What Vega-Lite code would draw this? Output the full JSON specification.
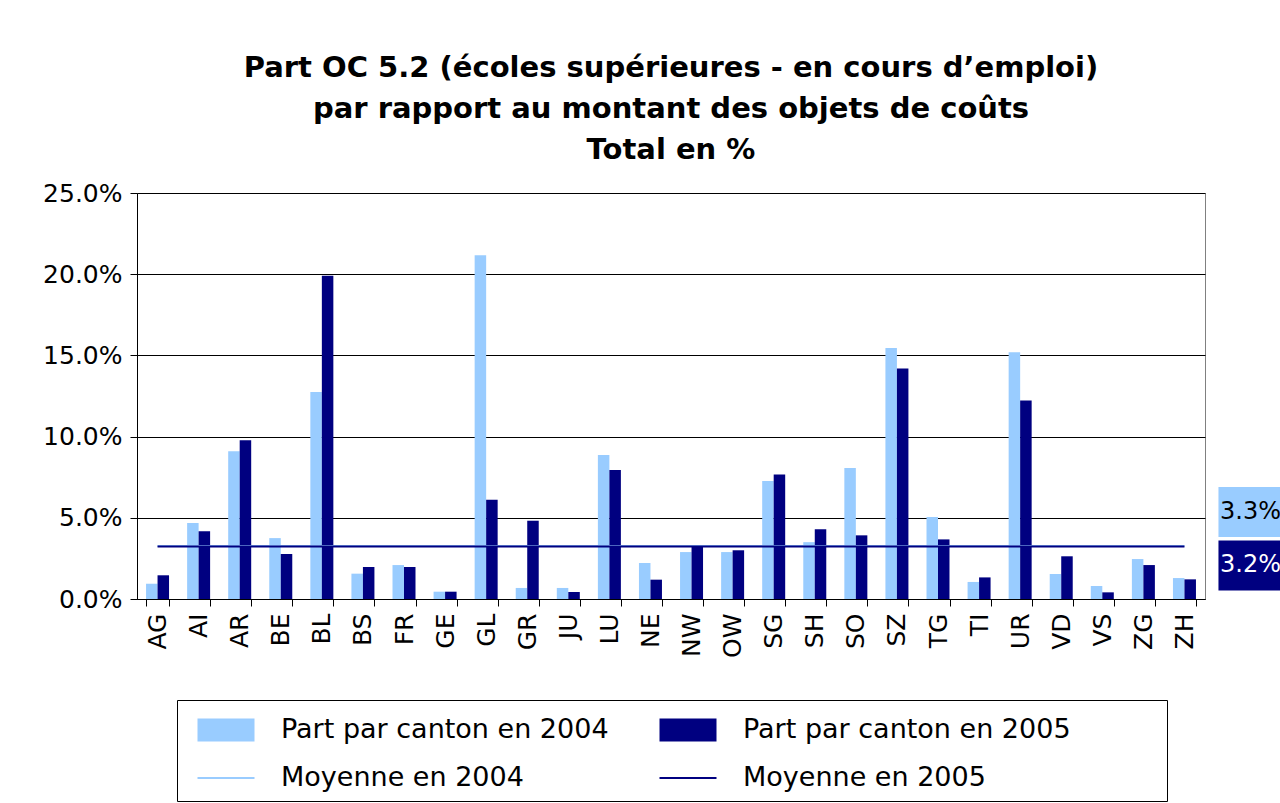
{
  "$schema": "https://vega.github.io/schema/vega-lite/v6.json",
  "autosize": "none",
  "width": 1068,
  "height": 406,
  "padding": {"left": 137, "top": 193, "right": 75, "bottom": 204},
  "background": "white",
  "config": {
    "view": {"stroke": "#808080", "strokeWidth": 1},
    "font": "DejaVu Sans",
    "legend": {
      "orient": "none", "legendX": 40, "legendY": 507, "columns": 2, "title": null,
      "strokeColor": "black", "fillColor": "white", "padding": 10,
      "labelFont": "DejaVu Sans", "labelFontSize": 27, "labelColor": "black",
      "labelOffset": 35, "symbolOffset": 19, "columnPadding": 40, "rowPadding": 15,
      "symbolSize": 1600, "labelLimit": 900, "symbolOpacity": 1, "symbolStrokeWidth": 0
    }
  },
  "title": {
    "text": ["Part OC 5.2 (écoles supérieures - en cours d’emploi)", "par rapport au montant des objets de coûts", "Total en %"],
    "font": "DejaVu Sans", "fontSize": 29, "fontWeight": "bold", "lineHeight": 41,
    "offset": 16, "anchor": "middle", "color": "black"
  },
  "datasets": {
    "bars": [
      {"canton": "AG", "series": "Part par canton en 2004", "value": 0.0094},
      {"canton": "AG", "series": "Part par canton en 2005", "value": 0.0146},
      {"canton": "AI", "series": "Part par canton en 2004", "value": 0.0468},
      {"canton": "AI", "series": "Part par canton en 2005", "value": 0.0417},
      {"canton": "AR", "series": "Part par canton en 2004", "value": 0.0910},
      {"canton": "AR", "series": "Part par canton en 2005", "value": 0.0977},
      {"canton": "BE", "series": "Part par canton en 2004", "value": 0.0375},
      {"canton": "BE", "series": "Part par canton en 2005", "value": 0.0277},
      {"canton": "BL", "series": "Part par canton en 2004", "value": 0.1274},
      {"canton": "BL", "series": "Part par canton en 2005", "value": 0.1990},
      {"canton": "BS", "series": "Part par canton en 2004", "value": 0.0156},
      {"canton": "BS", "series": "Part par canton en 2005", "value": 0.0197},
      {"canton": "FR", "series": "Part par canton en 2004", "value": 0.0209},
      {"canton": "FR", "series": "Part par canton en 2005", "value": 0.0197},
      {"canton": "GE", "series": "Part par canton en 2004", "value": 0.0045},
      {"canton": "GE", "series": "Part par canton en 2005", "value": 0.0045},
      {"canton": "GL", "series": "Part par canton en 2004", "value": 0.2117},
      {"canton": "GL", "series": "Part par canton en 2005", "value": 0.0611},
      {"canton": "GR", "series": "Part par canton en 2004", "value": 0.0068},
      {"canton": "GR", "series": "Part par canton en 2005", "value": 0.0482},
      {"canton": "JU", "series": "Part par canton en 2004", "value": 0.0068},
      {"canton": "JU", "series": "Part par canton en 2005", "value": 0.0043},
      {"canton": "LU", "series": "Part par canton en 2004", "value": 0.0886},
      {"canton": "LU", "series": "Part par canton en 2005", "value": 0.0794},
      {"canton": "NE", "series": "Part par canton en 2004", "value": 0.0222},
      {"canton": "NE", "series": "Part par canton en 2005", "value": 0.0119},
      {"canton": "NW", "series": "Part par canton en 2004", "value": 0.0289},
      {"canton": "NW", "series": "Part par canton en 2005", "value": 0.0326},
      {"canton": "OW", "series": "Part par canton en 2004", "value": 0.0289},
      {"canton": "OW", "series": "Part par canton en 2005", "value": 0.0300},
      {"canton": "SG", "series": "Part par canton en 2004", "value": 0.0726},
      {"canton": "SG", "series": "Part par canton en 2005", "value": 0.0767},
      {"canton": "SH", "series": "Part par canton en 2004", "value": 0.0350},
      {"canton": "SH", "series": "Part par canton en 2005", "value": 0.0429},
      {"canton": "SO", "series": "Part par canton en 2004", "value": 0.0806},
      {"canton": "SO", "series": "Part par canton en 2005", "value": 0.0392},
      {"canton": "SZ", "series": "Part par canton en 2004", "value": 0.1545},
      {"canton": "SZ", "series": "Part par canton en 2005", "value": 0.1420},
      {"canton": "TG", "series": "Part par canton en 2004", "value": 0.0505},
      {"canton": "TG", "series": "Part par canton en 2005", "value": 0.0367},
      {"canton": "TI", "series": "Part par canton en 2004", "value": 0.0105},
      {"canton": "TI", "series": "Part par canton en 2005", "value": 0.0133},
      {"canton": "UR", "series": "Part par canton en 2004", "value": 0.1520},
      {"canton": "UR", "series": "Part par canton en 2005", "value": 0.1223},
      {"canton": "VD", "series": "Part par canton en 2004", "value": 0.0154},
      {"canton": "VD", "series": "Part par canton en 2005", "value": 0.0263},
      {"canton": "VS", "series": "Part par canton en 2004", "value": 0.0080},
      {"canton": "VS", "series": "Part par canton en 2005", "value": 0.0041},
      {"canton": "ZG", "series": "Part par canton en 2004", "value": 0.0246},
      {"canton": "ZG", "series": "Part par canton en 2005", "value": 0.0209},
      {"canton": "ZH", "series": "Part par canton en 2004", "value": 0.0129},
      {"canton": "ZH", "series": "Part par canton en 2005", "value": 0.0121}
    ],
    "means": [
      {"canton": "AG", "series": "Moyenne en 2004", "value": 0.0327},
      {"canton": "ZH", "series": "Moyenne en 2004", "value": 0.0327},
      {"canton": "AG", "series": "Moyenne en 2005", "value": 0.0324},
      {"canton": "ZH", "series": "Moyenne en 2005", "value": 0.0324}
    ]
  },
  "encoding": {
    "x": {
      "field": "canton", "type": "nominal",
      "scale": {"domain": ["AG","AI","AR","BE","BL","BS","FR","GE","GL","GR","JU","LU","NE","NW","OW","SG","SH","SO","SZ","TG","TI","UR","VD","VS","ZG","ZH"], "paddingInner": 0.44, "paddingOuter": 0.22},
      "axis": {
        "title": null, "labelAngle": 270, "labelFont": "DejaVu Sans", "labelFontSize": 25,
        "labelColor": "black", "tickBand": "extent", "tickSize": 7, "tickColor": "black",
        "domainColor": "black", "labelPadding": 7, "grid": false
      }
    },
    "y": {
      "field": "value", "type": "quantitative",
      "scale": {"domain": [0, 0.25], "nice": false, "zero": true},
      "axis": {
        "title": null, "values": [0, 0.05, 0.1, 0.15, 0.2, 0.25], "format": ".1%",
        "labelFont": "DejaVu Sans", "labelFontSize": 25, "labelColor": "black",
        "tickSize": 7, "tickColor": "black", "labelPadding": 8, "domainColor": "black",
        "grid": true, "gridColor": "black", "gridOpacity": 1
      }
    }
  },
  "layer": [
    {
      "data": {"name": "bars"},
      "mark": {"type": "bar"},
      "encoding": {
        "xOffset": {"field": "series", "type": "nominal", "scale": {"domain": ["Part par canton en 2004", "Part par canton en 2005"]}},
        "color": {
          "field": "series", "type": "nominal",
          "scale": {
            "domain": ["Part par canton en 2004", "Moyenne en 2004", "Part par canton en 2005", "Moyenne en 2005"],
            "range": ["#99CCFF", "#99CCFF", "#000080", "#000080"]
          },
          "legend": {
            "labelExpr": "indexof(datum.value, '2005') >= 0 ? datum.label + '          \u200b' : datum.label"
          }
        }
      }
    },
    {
      "data": {"name": "means"},
      "mark": {"type": "line", "strokeWidth": 2},
      "encoding": {
        "color": {"field": "series", "type": "nominal"}
      }
    },
    {
      "data": {"name": "means"},
      "mark": {"type": "point", "filled": true, "opacity": 0},
      "encoding": {
        "color": {"field": "series", "type": "nominal"},
        "shape": {
          "field": "series", "type": "nominal",
          "scale": {
            "domain": ["Part par canton en 2004", "Moyenne en 2004", "Part par canton en 2005", "Moyenne en 2005"],
            "range": ["M-1.425,-0.575H1.425V0.575H-1.425Z", "M-1.425,-0.05H1.425V0.05H-1.425Z", "M-1.425,-0.575H1.425V0.575H-1.425Z", "M-1.425,-0.05H1.425V0.05H-1.425Z"]
          },
          "legend": {
            "labelExpr": "indexof(datum.value, '2005') >= 0 ? datum.label + '          \u200b' : datum.label"
          }
        }
      }
    },
    {
      "data": {"name": "means"},
      "transform": [{"filter": "datum.canton === 'ZH' && datum.series === 'Moyenne en 2004'"}],
      "mark": {"type": "point", "shape": "M-1.28,-1H1.28V1H-1.28Z", "size": 2500, "filled": true, "opacity": 1, "color": "#99CCFF", "xOffset": 66, "yOffset": -34}
    },
    {
      "data": {"name": "means"},
      "transform": [{"filter": "datum.canton === 'ZH' && datum.series === 'Moyenne en 2004'"}],
      "mark": {"type": "text", "font": "DejaVu Sans", "fontSize": 24, "color": "black", "align": "center", "baseline": "middle", "dx": 66, "dy": -34},
      "encoding": {"text": {"field": "value", "type": "quantitative", "format": ".1%"}}
    },
    {
      "data": {"name": "means"},
      "transform": [{"filter": "datum.canton === 'ZH' && datum.series === 'Moyenne en 2005'"}],
      "mark": {"type": "point", "shape": "M-1.28,-1H1.28V1H-1.28Z", "size": 2500, "filled": true, "opacity": 1, "color": "#000080", "xOffset": 66, "yOffset": 19}
    },
    {
      "data": {"name": "means"},
      "transform": [{"filter": "datum.canton === 'ZH' && datum.series === 'Moyenne en 2005'"}],
      "mark": {"type": "text", "font": "DejaVu Sans", "fontSize": 24, "color": "white", "align": "center", "baseline": "middle", "dx": 66, "dy": 19},
      "encoding": {"text": {"field": "value", "type": "quantitative", "format": ".1%"}}
    }
  ]
}
